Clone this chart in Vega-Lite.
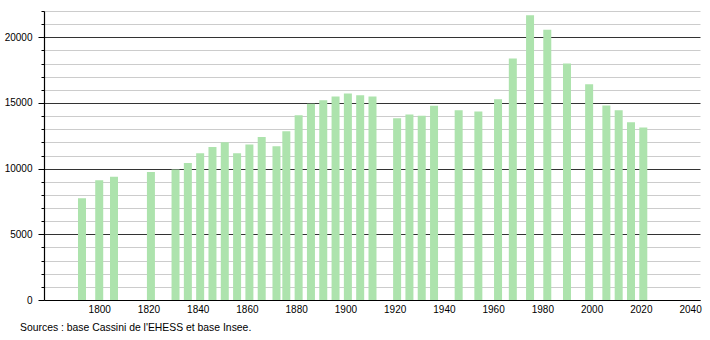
{
  "$schema": "https://vega.github.io/schema/vega-lite/v6.json",
  "width": 656,
  "height": 289,
  "autosize": "none",
  "padding": {"left": 44, "top": 11, "right": 10, "bottom": 40},
  "background": "white",
  "config": {
    "view": {"stroke": null},
    "font": "Liberation Sans",
    "axis": {"labelFont": "Liberation Sans", "labelFontSize": 10, "labelColor": "black"}
  },
  "title": {
    "text": "Sources : base Cassini de l'EHESS et base Insee.",
    "orient": "bottom",
    "anchor": "start",
    "frame": "group",
    "dx": -24,
    "offset": 9,
    "fontSize": 10.4,
    "fontWeight": "normal",
    "font": "Liberation Sans",
    "color": "black"
  },
  "data": {
    "values": [
      {"year": 1793, "pop": 7750},
      {"year": 1800, "pop": 9125},
      {"year": 1806, "pop": 9380},
      {"year": 1821, "pop": 9740},
      {"year": 1831, "pop": 9940},
      {"year": 1836, "pop": 10420},
      {"year": 1841, "pop": 11180},
      {"year": 1846, "pop": 11640},
      {"year": 1851, "pop": 12010},
      {"year": 1856, "pop": 11180},
      {"year": 1861, "pop": 11840},
      {"year": 1866, "pop": 12400},
      {"year": 1872, "pop": 11710},
      {"year": 1876, "pop": 12850},
      {"year": 1881, "pop": 14070},
      {"year": 1886, "pop": 14930},
      {"year": 1891, "pop": 15210},
      {"year": 1896, "pop": 15490},
      {"year": 1901, "pop": 15720},
      {"year": 1906, "pop": 15590},
      {"year": 1911, "pop": 15490},
      {"year": 1921, "pop": 13840},
      {"year": 1926, "pop": 14120},
      {"year": 1931, "pop": 14020},
      {"year": 1936, "pop": 14780},
      {"year": 1946, "pop": 14450},
      {"year": 1954, "pop": 14350},
      {"year": 1962, "pop": 15290},
      {"year": 1968, "pop": 18380},
      {"year": 1975, "pop": 21670},
      {"year": 1982, "pop": 20580},
      {"year": 1990, "pop": 18000},
      {"year": 1999, "pop": 16430},
      {"year": 2006, "pop": 14800},
      {"year": 2011, "pop": 14450},
      {"year": 2016, "pop": 13540},
      {"year": 2021, "pop": 13130}
    ]
  },
  "mark": {"type": "bar", "width": 8, "color": "#ade3ad"},
  "encoding": {
    "x": {
      "field": "year",
      "type": "quantitative",
      "scale": {"domain": [1779.6, 2042], "nice": false, "zero": false},
      "axis": {
        "title": null,
        "values": [1800, 1820, 1840, 1860, 1880, 1900, 1920, 1940, 1960, 1980, 2000, 2020, 2040],
        "format": "d",
        "grid": false,
        "ticks": false,
        "labelPadding": 4,
        "domainColor": "black",
        "domainWidth": 1.2,
        "labelFlush": false
      }
    },
    "y": {
      "field": "pop",
      "type": "quantitative",
      "scale": {"domain": [0, 22000], "nice": false},
      "axis": {
        "title": null,
        "values": [0, 1000, 2000, 3000, 4000, 5000, 6000, 7000, 8000, 9000, 10000, 11000, 12000, 13000, 14000, 15000, 16000, 17000, 18000, 19000, 20000, 21000, 22000],
        "labelExpr": "datum.value % 5000 === 0 ? datum.value : ''",
        "grid": true,
        "gridColor": {"condition": {"test": "datum.value % 5000 === 0", "value": "#333333"}, "value": "#cccccc"},
        "gridWidth": 1,
        "tickColor": "black",
        "tickSize": {"condition": {"test": "datum.value % 5000 === 0", "value": 6}, "value": 3},
        "labelPadding": 6,
        "domainColor": "black",
        "domainWidth": 1.2,
        "labelFlush": false
      }
    }
  }
}
